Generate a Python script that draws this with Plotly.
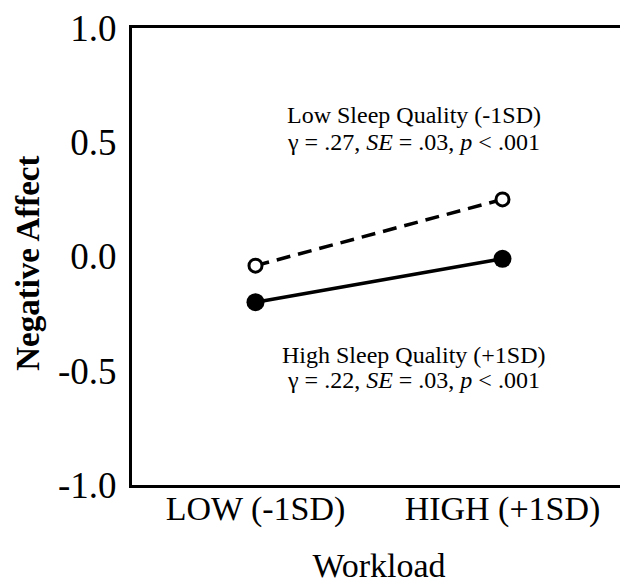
import plotly.graph_objects as go

categories = ["LOW (-1SD)", "HIGH (+1SD)"]
x_pos = [0, 1]
low_sleep = [-0.04, 0.25]    # Low Sleep Quality (-1SD), dashed, open markers
high_sleep = [-0.20, -0.01]  # High Sleep Quality (+1SD), solid, filled markers
y_ticks = [-1.0, -0.5, 0.0, 0.5, 1.0]
y_ticktext = ["-1.0", "-0.5", "0.0", "0.5", "1.0"]

FONT = "Liberation Serif, Times New Roman, serif"

fig = go.Figure()
fig.add_trace(go.Scatter(
    x=x_pos, y=high_sleep, mode="lines+markers",
    line=dict(color="black", width=3.5),
    marker=dict(size=18, color="black"),
    showlegend=False,
))
fig.add_trace(go.Scatter(
    x=x_pos, y=low_sleep, mode="lines+markers",
    line=dict(color="black", width=3.5, dash="14px,8px"),
    marker=dict(size=13, color="white", line=dict(color="black", width=3)),
    showlegend=False,
))

ann_font = dict(family=FONT, size=24, color="black")
texts = [
    ("Low Sleep Quality (-1SD)", 0.62),
    ("γ = .27, <i>SE</i> = .03, <i>p</i> < .001", 0.50),
    ("High Sleep Quality (+1SD)", -0.43),
    ("γ = .22, <i>SE</i> = .03, <i>p</i> < .001", -0.54),
]
for t, yy in texts:
    fig.add_annotation(x=0.64, y=yy, xref="x", yref="y", text=t,
                       showarrow=False, font=ann_font,
                       xanchor="center", yanchor="middle")

# y-axis title placed as a rotated annotation for exact positioning
fig.add_annotation(x=-0.2105, y=0.484, xref="paper", yref="paper",
                   text="<b>Negative Affect</b>", textangle=-90,
                   showarrow=False, xanchor="center", yanchor="middle",
                   borderpad=0,
                   font=dict(family=FONT, size=33, color="black"))

fig.update_xaxes(
    range=[-0.5, 1.5], tickvals=x_pos, ticktext=categories,
    showline=True, linecolor="black", linewidth=3, mirror=True,
    showgrid=False, zeroline=False, ticks="", ticklen=0, automargin=False,
    tickfont=dict(family=FONT, size=34, color="black"),
    ticklabelstandoff=-9, ticklabeloverflow="allow",
    title=dict(text="Workload", font=dict(family=FONT, size=34, color="black"),
               standoff=29),
)
fig.update_yaxes(
    range=[-1, 1], tickvals=y_ticks, ticktext=y_ticktext,
    showline=True, linecolor="black", linewidth=3, mirror=True,
    showgrid=False, zeroline=False, ticks="", ticklen=0, automargin=False,
    tickfont=dict(family=FONT, size=37, color="black"),
    ticklabelstandoff=5, ticklabeloverflow="allow",
)
# the page body adds an 8px offset, so the figure is 8px smaller on each axis
fig.update_layout(
    width=620, height=576,
    margin=dict(l=124, r=2, t=20, b=99),
    plot_bgcolor="white", paper_bgcolor="white",
)
fig.write_html("out.html")
